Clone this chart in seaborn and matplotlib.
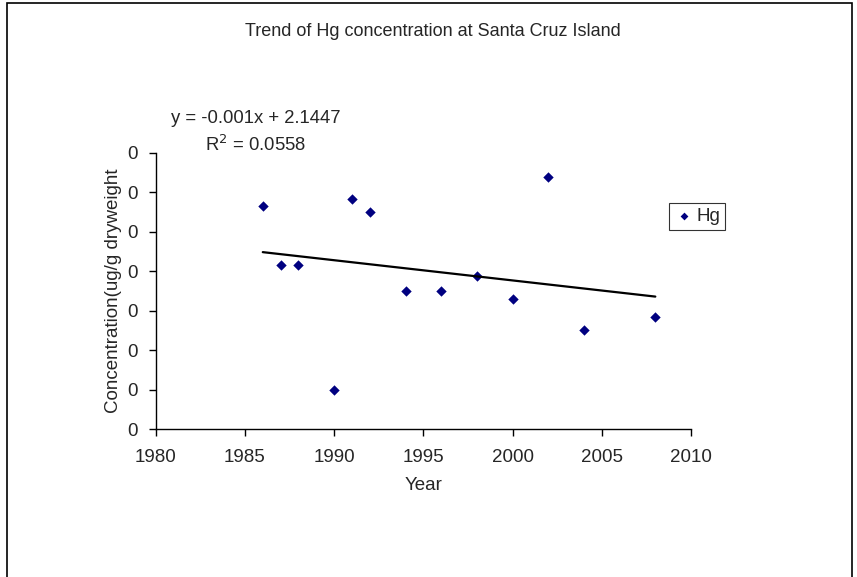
import matplotlib
matplotlib.use('Agg')
import matplotlib.pyplot as plt
from matplotlib.patches import Rectangle
from matplotlib.ticker import FormatStrFormatter
import seaborn as sns
import pandas as pd

years = [1986, 1987, 1988, 1990, 1991, 1992, 1994, 1996, 1998, 2000, 2002, 2004, 2008]
hg = [0.1131, 0.0832, 0.0832, 0.0201, 0.1166, 0.1100, 0.0700, 0.0700, 0.0775, 0.0660, 0.1279, 0.0504, 0.0569]

df = pd.DataFrame({'Year': years, 'Hg': hg})

sns.set_style('white')
plt.rcParams['font.family'] = ['Liberation Sans', 'DejaVu Sans']

fig = plt.figure(figsize=(8.57, 5.77), dpi=100)
ax = fig.add_axes([0.1817, 0.256, 0.6246, 0.4794])

sns.scatterplot(data=df, x='Year', y='Hg', marker='D', color='#000080', s=28,
                edgecolor='#000080', linewidth=0, label='Hg', ax=ax)
sns.regplot(data=df, x='Year', y='Hg', scatter=False, ci=None, truncate=True,
            line_kws={'color': 'black', 'linewidth': 1.6}, ax=ax)

ax.set_xlim(1980, 2010)
ax.set_ylim(0, 0.14)
ax.set_xticks(range(1980, 2011, 5))
ax.set_yticks([i * 0.02 for i in range(8)])
ax.yaxis.set_major_formatter(FormatStrFormatter('%.0f'))
ax.tick_params(axis='both', direction='out', length=5, width=1, color='black',
               labelsize=13.5, left=True, bottom=True)
ax.tick_params(axis='x', pad=9)
ax.tick_params(axis='y', pad=8)
for side in ('top', 'right'):
    ax.spines[side].set_visible(False)
for side in ('left', 'bottom'):
    ax.spines[side].set_color('black')
    ax.spines[side].set_linewidth(1)

ax.set_xlabel('Year', fontsize=13.5, labelpad=8)
ax.set_ylabel('Concentration(ug/g dryweight', fontsize=13.5, labelpad=4)

fig.text(433 / 857, 1 - 31 / 577, 'Trend of Hg concentration at Santa Cruz Island',
         ha='center', va='center', fontsize=13)
fig.text(255.5 / 857, 1 - 118 / 577, 'y = -0.001x + 2.1447', ha='center', va='center', fontsize=13.3)
fig.text(255.5 / 857, 1 - 145 / 577, 'R$^2$ = 0.0558', ha='center', va='center', fontsize=13.3)

leg = ax.legend(loc='center left', bbox_to_anchor=(0.959, 0.769), frameon=True,
                fancybox=False, fontsize=13.5, handletextpad=0.1, borderpad=0.25,
                handlelength=1.1, markerscale=0.75, borderaxespad=0)
leg.get_frame().set_edgecolor('black')
leg.get_frame().set_linewidth(0.8)

fig.patches.append(Rectangle((7 / 857, -0.05), 845 / 857, 1.05 - 3 / 577, transform=fig.transFigure,
                             fill=False, edgecolor='black', linewidth=1.2))

fig.savefig('out.png', dpi=100)
